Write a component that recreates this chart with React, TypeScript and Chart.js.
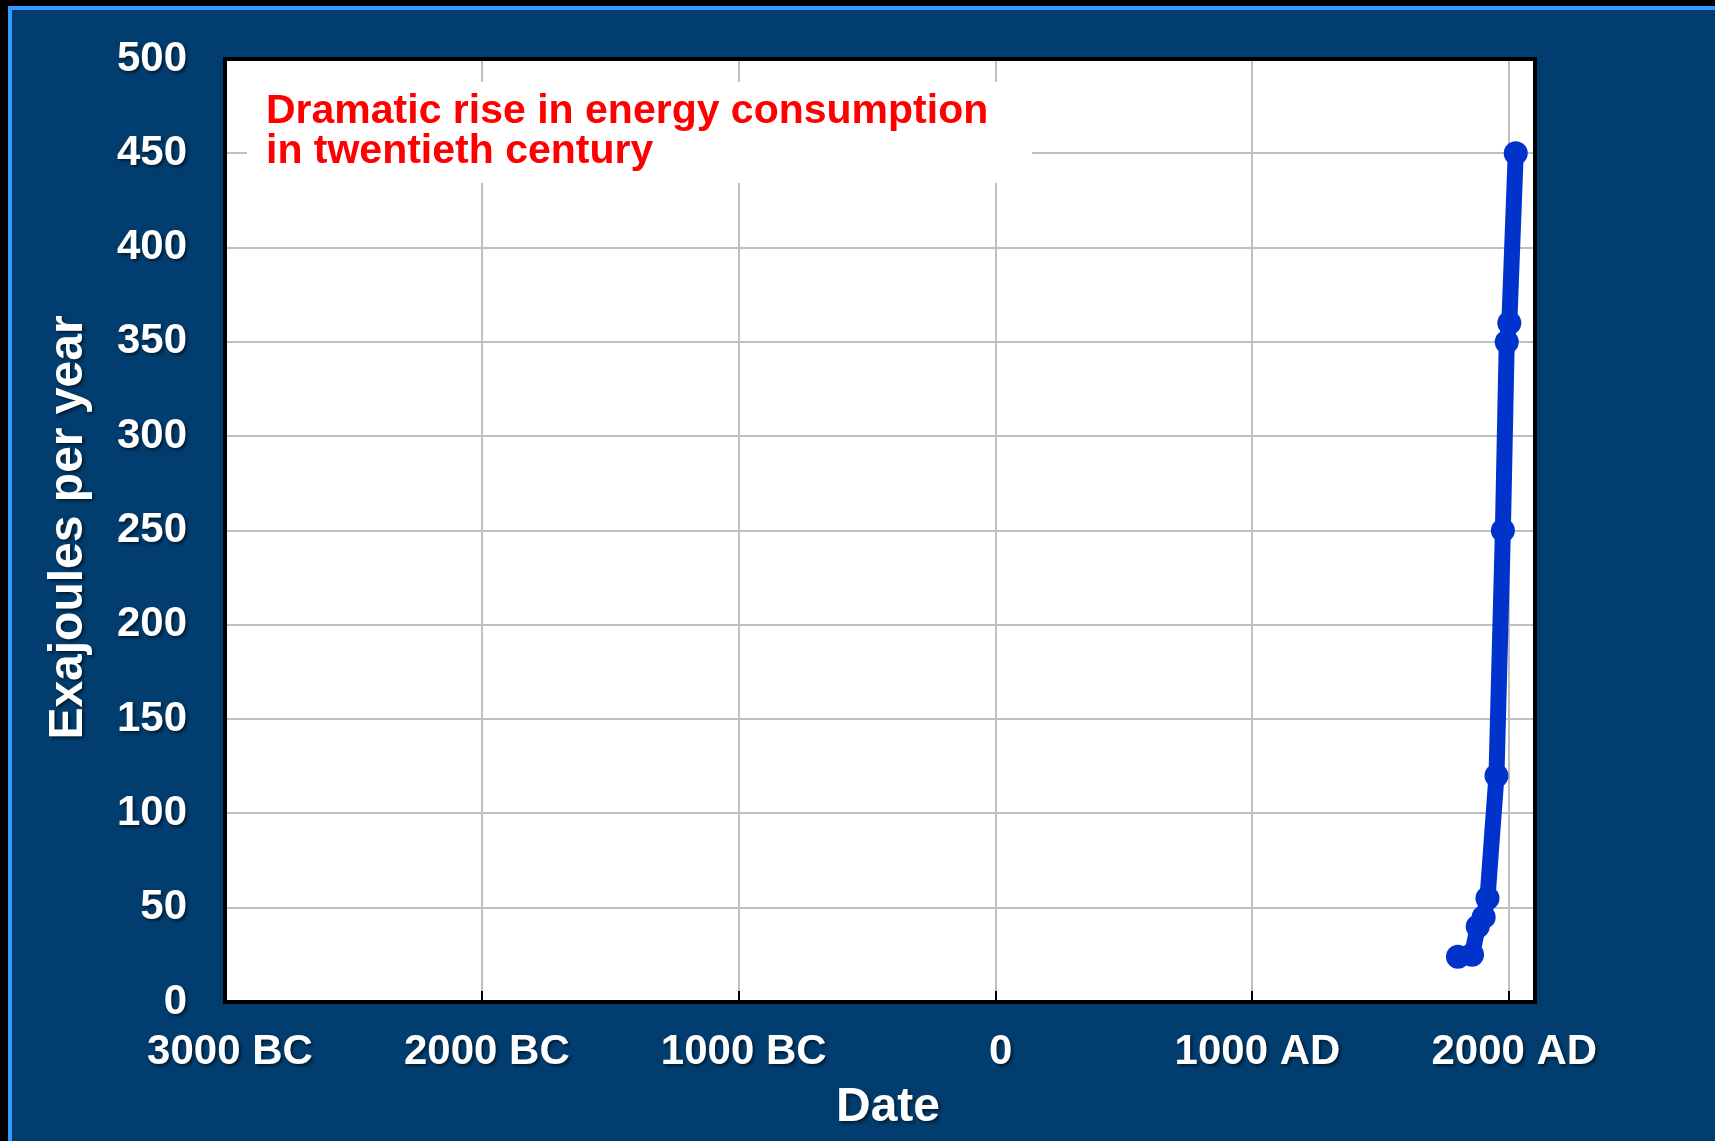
import React, { useEffect, useRef } from "react";
import { Chart, registerables } from "chart.js";

Chart.register(...registerables);

// ---- data ----
const YEARS = [1800, 1855, 1877, 1900, 1915, 1950, 1975, 1990, 2000, 2025];
const EXAJOULES = [24, 25, 40, 45, 55, 120, 250, 350, 360, 450];
const X_TICKS = [-3000, -2000, -1000, 0, 1000, 2000];
const X_TICK_LABELS = ["3000 BC", "2000 BC", "1000 BC", "0", "1000 AD", "2000 AD"];
const Y_TICKS = [0, 50, 100, 150, 200, 250, 300, 350, 400, 450, 500];
const ANNOTATION_LINES = ["Dramatic rise in energy consumption", "in twentieth century"];
const X_TITLE = "Date";
const Y_TITLE = "Exajoules per year";

// ---- styles ----
const FONT = "'Liberation Sans', Arial, Helvetica, sans-serif";
const NAVY = "#013d6e";
const FRAME_BLUE = "#3399ff";
const LINE_BLUE = "#0033cc";
const GRID = "#c0c0c0";

const patchShadow = (chart: any, scale: any, titleShift: [number, number]) => {
  if (!scale || scale.__shadowPatched) return;
  scale.__shadowPatched = true;
  const proto = Object.getPrototypeOf(scale);
  const wrap = (name: string, shift: [number, number]) => {
    scale[name] = function (...args: any[]) {
      const ctx = chart.ctx;
      ctx.save();
      ctx.translate(shift[0], shift[1]);
      ctx.shadowColor = "rgba(0,0,0,0.55)";
      ctx.shadowOffsetX = 2;
      ctx.shadowOffsetY = 2;
      ctx.shadowBlur = 3;
      proto[name].apply(this, args);
      ctx.restore();
    };
  };
  wrap("drawLabels", [0, 0]);
  wrap("drawTitle", titleShift);
};

const plotDecor = {
  id: "plotDecor",
  beforeDraw(chart: any) {
    const { ctx, chartArea: a } = chart;
    ctx.save();
    ctx.fillStyle = "#ffffff";
    ctx.fillRect(a.left, a.top, a.right - a.left, a.bottom - a.top);
    ctx.restore();
    patchShadow(chart, chart.scales.x, [8, 0]);
    patchShadow(chart, chart.scales.y, [0, -3]);
  },
  beforeDatasetsDraw(chart: any) {
    const { ctx, chartArea: a } = chart;
    ctx.save();
    ctx.fillStyle = "#ffffff";
    ctx.fillRect(a.left + 22, a.top + 23, 785, 101);
    ctx.fillStyle = "#ff0000";
    ctx.font = `bold 41px ${FONT}`;
    ctx.textBaseline = "alphabetic";
    ctx.textAlign = "left";
    ANNOTATION_LINES.forEach((t, i) => {
      ctx.fillText(t, a.left + 41, a.top + 64 + i * 40);
    });
    ctx.restore();
  },
  afterDraw(chart: any) {
    const { ctx, chartArea: a } = chart;
    const xs = chart.scales.x;
    ctx.save();
    ctx.strokeStyle = "#000000";
    ctx.lineWidth = 2;
    X_TICKS.forEach((v) => {
      const px = Math.round(xs.getPixelForValue(v));
      ctx.beginPath();
      ctx.moveTo(px, a.bottom);
      ctx.lineTo(px, a.bottom - 11);
      ctx.stroke();
    });
    ctx.lineWidth = 4;
    ctx.strokeRect(a.left, a.top, a.right - a.left, a.bottom - a.top);
    ctx.restore();
  },
};

export default function App() {
  const ref = useRef<HTMLCanvasElement | null>(null);

  useEffect(() => {
    document.body.style.margin = "0";
    document.body.style.background = "#000";
    document.body.style.overflow = "hidden";
    const canvas = ref.current;
    if (!canvas) return;
    const chart = new Chart(canvas, {
      type: "line",
      data: {
        datasets: [
          {
            data: YEARS.map((y, i) => ({ x: y, y: EXAJOULES[i] })),
            borderColor: LINE_BLUE,
            backgroundColor: LINE_BLUE,
            borderWidth: 16,
            pointRadius: 12,
            pointBorderWidth: 0,
            pointBackgroundColor: LINE_BLUE,
            tension: 0,
            borderJoinStyle: "round",
            borderCapStyle: "round",
          },
        ],
      },
      options: {
        responsive: false,
        animation: false,
        devicePixelRatio: 1,
        layout: { padding: { top: 49, right: 180, bottom: 0, left: 0 } },
        plugins: {
          legend: { display: false },
          tooltip: { enabled: false },
        },
        scales: {
          x: {
            type: "linear",
            min: -3000,
            max: 2100,
            afterBuildTicks: (s: any) => {
              s.ticks = X_TICKS.map((v) => ({ value: v }));
            },
            afterFit: (s: any) => {
              s.height = 139;
            },
            grid: { color: GRID, lineWidth: 2, drawTicks: false },
            border: { display: false },
            ticks: {
              color: "#ffffff",
              font: { family: FONT, size: 42, weight: "bold" },
              padding: 25,
              labelOffset: 5,
              autoSkip: false,
              maxRotation: 0,
              callback: (_v: any, i: number) => X_TICK_LABELS[i],
            },
            title: {
              display: true,
              text: X_TITLE,
              color: "#ffffff",
              font: { family: FONT, size: 48, weight: "bold" },
              padding: { top: 0, bottom: 4 },
            },
          },
          y: {
            type: "linear",
            min: 0,
            max: 500,
            afterBuildTicks: (s: any) => {
              s.ticks = Y_TICKS.map((v) => ({ value: v }));
            },
            afterFit: (s: any) => {
              s.width = 213;
              s.paddingTop = 0;
              s.paddingBottom = 0;
            },
            grid: { color: GRID, lineWidth: 2, drawTicks: false },
            border: { display: false },
            ticks: {
              color: "#ffffff",
              font: { family: FONT, size: 42, weight: "bold" },
              padding: 38,
              autoSkip: false,
            },
            title: {
              display: true,
              text: Y_TITLE,
              color: "#ffffff",
              font: { family: FONT, size: 48, weight: "bold" },
              padding: { top: 28, bottom: 0 },
            },
          },
        },
      },
      plugins: [plotDecor],
    } as any);
    return () => chart.destroy();
  }, []);

  return (
    <div
      style={{
        width: 1715,
        height: 1141,
        background: "#000",
        paddingTop: 6,
        paddingLeft: 8,
        boxSizing: "border-box",
        overflow: "hidden",
      }}
    >
      <div
        style={{
          width: 1707,
          height: 1135,
          boxSizing: "border-box",
          borderTop: `4px solid ${FRAME_BLUE}`,
          borderLeft: `4px solid ${FRAME_BLUE}`,
          background: NAVY,
        }}
      >
        <canvas
          ref={ref}
          width={1703}
          height={1131}
          style={{ display: "block", width: 1703, height: 1131 }}
        />
      </div>
    </div>
  );
}
